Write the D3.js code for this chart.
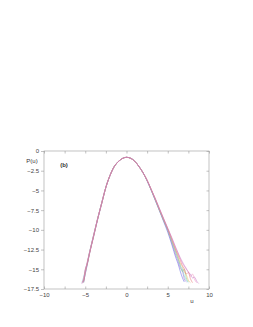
<!DOCTYPE html>
<html>
<head>
<meta charset="utf-8">
<script src="https://cdn.jsdelivr.net/npm/d3@7"></script>
<style>
  body { margin: 0; background: #fff; }
  svg { display: block; }
  text { font-family: "Liberation Sans", Arial, sans-serif; }
</style>
</head>
<body>
<div id="chart"></div>
<script>
// u values where the curves are sampled
var uValues = [-5.4, -5.2, -5.0, -4.75, -4.5, -4.0, -3.5, -3.0, -2.5, -2.0, -1.5, -1.0, -0.5, 0,
  0.5, 1.0, 1.5, 2.0, 2.5, 3.0, 3.5, 4.0, 4.5, 5.0, 5.5, 6.0, 6.25, 6.5, 6.75, 7.0, 7.25, 7.5,
  7.75, 8.0, 8.25, 8.5, 8.75];

// P(u) for each run (null = no data)
var seriesA = [null, -16.6, -15.6, -14.4, -13.1, -10.9, -8.7, -6.6, -4.6, -3.1, -2.0, -1.35, -0.95, -0.8,
  -0.92, -1.3, -1.95, -2.75, -3.8, -5.0, -6.3, -7.6, -8.95, -10.3, -11.9, -13.6, -14.3, -15.2, -16.0, -16.6,
  null, null, null, null, null, null, null];
var seriesB = [-16.8, -16.3, -15.0, -14.2, -13.0, -10.8, -8.6, -6.6, -4.6, -3.1, -2.0, -1.35, -0.95, -0.8,
  -0.92, -1.3, -1.95, -2.75, -3.78, -4.98, -6.25, -7.55, -8.85, -10.1, -11.7, -13.3, -14.0, -14.8, -15.1, -16.2,
  -16.6, null, null, null, null, null, null];
var seriesC = [null, -16.7, -15.5, -14.3, -13.0, -10.8, -8.6, -6.6, -4.6, -3.1, -2.0, -1.35, -0.95, -0.8,
  -0.92, -1.3, -1.95, -2.75, -3.75, -4.95, -6.2, -7.5, -8.8, -10.0, -11.5, -13.0, -13.7, -14.4, -15.3, -15.0,
  -16.1, -16.6, null, null, null, null, null];
var seriesD = [-16.7, -16.0, -15.2, -14.1, -12.9, -10.7, -8.55, -6.55, -4.6, -3.1, -2.0, -1.35, -0.95, -0.8,
  -0.92, -1.3, -1.95, -2.75, -3.75, -4.95, -6.2, -7.5, -8.75, -10.0, -11.4, -12.9, -13.6, -14.5, -14.9, -15.8,
  -16.4, -16.7, null, null, null, null, null];
var seriesE = [null, -16.5, -15.4, -14.2, -13.0, -10.8, -8.6, -6.6, -4.6, -3.1, -2.0, -1.35, -0.95, -0.8,
  -0.92, -1.3, -1.95, -2.75, -3.72, -4.92, -6.15, -7.45, -8.7, -9.9, -11.3, -12.7, -13.4, -14.2, -14.6, -15.3,
  -15.7, -16.4, -16.7, null, null, null, null];
var seriesF = [-16.6, -16.4, -15.1, -14.3, -13.1, -10.9, -8.65, -6.6, -4.6, -3.1, -2.0, -1.35, -0.95, -0.8,
  -0.92, -1.3, -1.95, -2.75, -3.72, -4.9, -6.1, -7.4, -8.65, -9.9, -11.2, -12.6, -13.2, -13.8, -14.5, -14.9,
  -15.6, -15.4, -16.2, -16.7, null, null, null];
var seriesG = [-16.8, -16.2, -15.3, -14.0, -12.9, -10.7, -8.55, -6.55, -4.6, -3.1, -2.0, -1.35, -0.95, -0.8,
  -0.92, -1.3, -1.95, -2.75, -3.7, -4.88, -6.08, -7.35, -8.6, -9.8, -11.1, -12.4, -13.0, -13.6, -14.2, -14.6,
  -15.0, -15.3, -15.9, -15.6, -16.3, -16.7, null];
var seriesH = [null, -16.7, -15.5, -14.2, -13.0, -10.8, -8.6, -6.6, -4.6, -3.1, -2.0, -1.35, -0.95, -0.8,
  -0.92, -1.3, -1.95, -2.75, -3.7, -4.88, -6.05, -7.3, -8.55, -9.8, -11.0, -12.3, -12.9, -13.5, -14.0, -14.5,
  -14.9, -15.4, -15.6, -16.1, -16.0, -16.5, -16.8];

var allSeries = [seriesA, seriesB, seriesC, seriesD, seriesE, seriesF, seriesG, seriesH];
var colors = ["#5a5ae6", "#9a60c8", "#7fd07f", "#70c8d8", "#e8b060", "#e87070", "#f090c0", "#c070c0"];

var xTickLabels = [-10, -5, 0, 5, 10];
var xMinorTicks = [-10, -7.5, -5, -2.5, 0, 2.5, 5, 7.5, 10];
var yTickLabels = [0, -2.5, -5, -7.5, -10, -12.5, -15, -17.5];

var width = 253, height = 327;
var margin = {left: 44, top: 151, right: 44, bottom: 38};

var svg = d3.select("#chart").append("svg")
    .attr("width", width)
    .attr("height", height);

var x = d3.scaleLinear().domain([-10, 10]).range([margin.left, width - margin.right]);
var y = d3.scaleLinear().domain([0, -17.5]).range([margin.top, height - margin.bottom]);

var fmt = function(d) { return String(d).replace("-", "\u2212"); };

// frame
svg.append("rect")
    .attr("x", x(-10)).attr("y", y(0))
    .attr("width", x(10) - x(-10)).attr("height", y(-17.5) - y(0))
    .attr("fill", "none").attr("stroke", "#999").attr("stroke-width", 0.6);

function styleAxis(g) {
    g.select(".domain").remove();
    g.selectAll(".tick line").attr("stroke", "#999").attr("stroke-width", 0.6);
    g.selectAll(".tick text").attr("fill", "#444").attr("font-size", 6);
}

// bottom axis with labels, ticks inward
svg.append("g")
    .attr("transform", "translate(0," + y(-17.5) + ")")
    .call(d3.axisBottom(x).tickValues(xTickLabels).tickFormat(fmt).tickSizeInner(0).tickPadding(4))
    .call(styleAxis);
svg.append("g")
    .attr("transform", "translate(0," + y(-17.5) + ")")
    .call(d3.axisTop(x).tickValues(xMinorTicks).tickFormat("").tickSize(2.5))
    .call(styleAxis);
// top ticks
svg.append("g")
    .attr("transform", "translate(0," + y(0) + ")")
    .call(d3.axisBottom(x).tickValues(xMinorTicks).tickFormat("").tickSize(2.5))
    .call(styleAxis);
// left axis, ticks outward
svg.append("g")
    .attr("transform", "translate(" + x(-10) + ",0)")
    .call(d3.axisLeft(y).tickValues(yTickLabels).tickFormat(fmt).tickSize(3).tickPadding(2))
    .call(styleAxis);
// right ticks inward
svg.append("g")
    .attr("transform", "translate(" + x(10) + ",0)")
    .call(d3.axisLeft(y).tickValues(yTickLabels).tickFormat("").tickSize(2.5))
    .call(styleAxis);

var line = d3.line()
    .defined(function(d) { return d != null; })
    .x(function(d, i) { return x(uValues[i]); })
    .y(function(d) { return y(d); })
    .curve(d3.curveMonotoneX);

svg.append("g").selectAll("path")
    .data(allSeries)
    .enter().append("path")
    .attr("d", line)
    .attr("fill", "none")
    .attr("stroke", function(d, i) { return colors[i]; })
    .attr("stroke-width", 0.6)
    .attr("stroke-opacity", 0.85);

// labels
svg.append("text")
    .attr("x", 32).attr("y", 163)
    .attr("text-anchor", "middle")
    .attr("font-size", 6).attr("fill", "#333")
    .text("P(u)");

svg.append("text")
    .attr("x", 64).attr("y", 167)
    .attr("text-anchor", "middle")
    .attr("font-size", 6).attr("font-weight", "bold").attr("fill", "#333")
    .text("(b)");

svg.append("text")
    .attr("x", 192).attr("y", 303)
    .attr("text-anchor", "middle")
    .attr("font-size", 6).attr("fill", "#333")
    .text("u");
</script>
</body>
</html>
